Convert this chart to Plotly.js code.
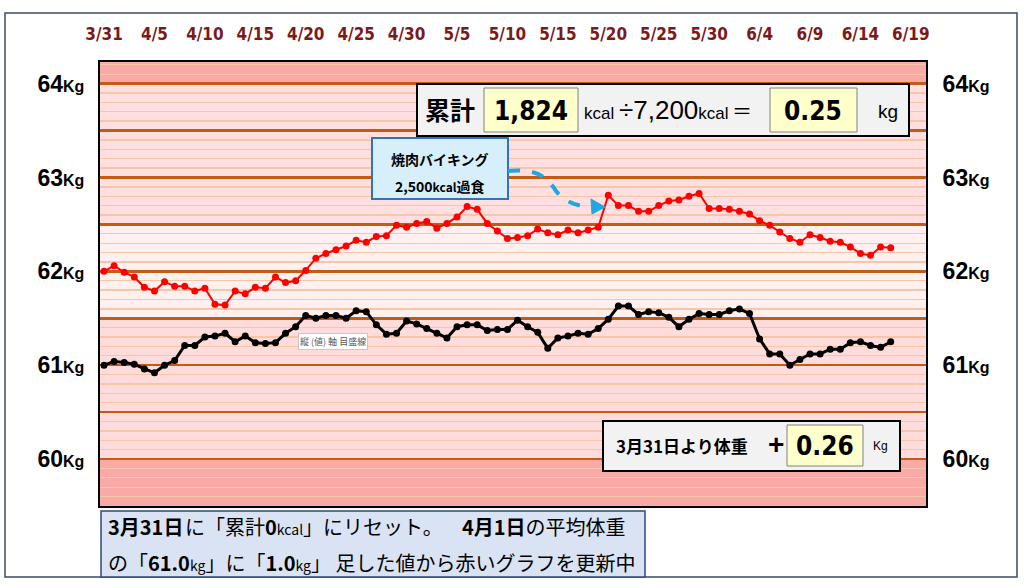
<!DOCTYPE html>
<html>
<head>
<meta charset="utf-8">
<script src="https://cdn.plot.ly/plotly-3.0.1.min.js"></script>
<style>html,body{margin:0;padding:0;background:#fff;}#chart{width:1024px;height:588px;}</style>
</head>
<body>
<div id="chart"></div>
<script>
// ---- data ----
const dates = ['3/31',
 '4/1','4/2','4/3','4/4','4/5','4/6','4/7','4/8','4/9','4/10','4/11','4/12','4/13','4/14','4/15',
 '4/16','4/17','4/18','4/19','4/20','4/21','4/22','4/23','4/24','4/25','4/26','4/27','4/28','4/29','4/30',
 '5/1','5/2','5/3','5/4','5/5','5/6','5/7','5/8','5/9','5/10','5/11','5/12','5/13','5/14','5/15',
 '5/16','5/17','5/18','5/19','5/20','5/21','5/22','5/23','5/24','5/25','5/26','5/27','5/28','5/29','5/30','5/31',
 '6/1','6/2','6/3','6/4','6/5','6/6','6/7','6/8','6/9','6/10','6/11','6/12','6/13','6/14','6/15','6/16','6/17'];

const redWeight = [62.00,62.06,61.99,61.94,61.83,61.79,61.89,61.84,61.84,61.79,
 61.82,61.65,61.64,61.79,61.76,61.83,61.82,61.94,61.88,61.90,
 62.01,62.14,62.19,62.23,62.27,62.33,62.31,62.37,62.38,62.49,
 62.47,62.51,62.53,62.46,62.51,62.58,62.69,62.66,62.51,62.43,
 62.35,62.36,62.38,62.45,62.41,62.39,62.44,62.41,62.44,62.47,
 62.81,62.70,62.70,62.64,62.64,62.70,62.75,62.76,62.80,62.83,
 62.67,62.67,62.66,62.64,62.61,62.54,62.49,62.42,62.35,62.31,
 62.39,62.36,62.32,62.31,62.26,62.19,62.17,62.26,62.25];

const blackWeight = [61.00,61.04,61.03,61.01,60.96,60.92,61.00,61.05,61.21,61.21,
 61.30,61.31,61.34,61.25,61.31,61.24,61.23,61.24,61.34,61.41,
 61.53,61.50,61.53,61.53,61.50,61.58,61.57,61.43,61.33,61.34,
 61.47,61.44,61.39,61.34,61.29,61.41,61.43,61.43,61.37,61.38,
 61.38,61.48,61.41,61.35,61.18,61.29,61.31,61.34,61.33,61.39,
 61.49,61.63,61.63,61.54,61.57,61.56,61.51,61.41,61.49,61.55,
 61.54,61.54,61.58,61.60,61.55,61.28,61.12,61.12,61.00,61.06,
 61.12,61.12,61.17,61.17,61.24,61.25,61.21,61.19,61.25];

const xTickLabels = ['3/31','4/5','4/10','4/15','4/20','4/25','4/30','5/5','5/10','5/15','5/20','5/25','5/30','6/4','6/9','6/14','6/19'];
const yMajorVals = [60,60.5,61,61.5,62,62.5,63,63.5,64];
const yLabelVals = [60,61,62,63,64];

const totalKcal = '1,824';
const kcalPerKg = '7,200';
const kgResult = '0.25';
const gainSince = '0.26';

// ---- helpers ----
const YEAR = '2019';
const iso = d => { const [m, dd] = d.split('/'); return `${YEAR}-${m.padStart(2,'0')}-${dd.padStart(2,'0')}`; };
const xs = dates.map(iso);

const L = 100, R = 926, T = 62, B = 506;
const px = x => (x - L) / (R - L);
const py = y => (B - y) / (B - T);
const pathPx = pts => pts.map(p => typeof p === 'string' ? p : `${px(p[0]).toFixed(5)},${py(p[1]).toFixed(5)}`).join(' ');

const kgLabel = v => `${v}<span style="font-size:16px">Kg</span>`;
const CJK = 'Noto Sans CJK JP, sans-serif';
const NARROW = 'Liberation Sans Narrow, Arial Narrow, DejaVu Sans Condensed, Roboto Condensed, Roboto, sans-serif';

const traces = [
  {x: xs, y: redWeight, type: 'scatter', mode: 'lines+markers',
   line: {color: '#ff0000', width: 2}, marker: {color: '#ff0000', size: 7}, hoverinfo: 'skip'},
  {x: xs, y: blackWeight, type: 'scatter', mode: 'lines+markers',
   line: {color: '#000000', width: 3}, marker: {color: '#000000', size: 7}, hoverinfo: 'skip'},
  {x: [], y: [], type: 'scatter', yaxis: 'y2', hoverinfo: 'skip'}
];

const yRange = [59.5, 64.23];

const rect = (x0, y0, x1, y1, fill, lc, lw, layer) => ({
  type: 'rect', xref: 'paper', yref: 'paper', x0: px(x0), x1: px(x1), y0: py(y1), y1: py(y0),
  fillcolor: fill, line: {color: lc, width: lw}, layer: layer || 'above'
});
const band = (v0, v1, fill) => ({
  type: 'rect', xref: 'paper', yref: 'y', x0: 0, x1: 1, y0: v0, y1: v1,
  fillcolor: fill, line: {width: 0}, layer: 'below'
});

const shapes = [
  band(59.5, 60, '#f9a9a6'),
  band(60, 61.5, '#ffdcdc'),
  band(61.5, 62.5, '#fff0f0'),
  band(62.5, 64, '#ffdfdf'),
  band(64, 64.23, '#f9a9a6'),
  // outer frame
  rect(5, 13, 1017, 577, 'rgba(0,0,0,0)', '#3b4866', 1.5, 'below'),
  // kcal box
  rect(417, 84, 909, 136, '#f2f2f2', '#000000', 2),
  rect(484, 88, 578, 132, '#ffffcc', '#808080', 1),
  rect(770, 88, 857, 132, '#ffffcc', '#808080', 1),
  // callout
  rect(372, 138, 508, 199, '#d7effa', '#2e75b6', 2),
  {type: 'path', xref: 'paper', yref: 'paper', layer: 'above',
   path: 'M ' + pathPx([[508,171], 'C', [538,168], [548,178], [556,191], 'C', [566,204], [582,207], [594,207]]),
   line: {color: '#1ea7e1', width: 4, dash: 'dash'}},
  {type: 'path', xref: 'paper', yref: 'paper', layer: 'above',
   path: 'M ' + pathPx([[605,207], 'L', [591,199], 'L', [592,214]]) + ' Z',
   fillcolor: '#1ea7e1', line: {color: '#1ea7e1', width: 1}},
  // weight gain box
  rect(603, 421, 900, 471, '#f2f2f2', '#000000', 2),
  rect(787, 425, 863, 466, '#ffffcc', '#808080', 1),
  // note box
  rect(101, 511, 645, 577, '#dae3f3', '#2f4a7f', 1.5)
];

const ann = (x, y, text, size, opts) => Object.assign({
  xref: 'paper', yref: 'paper', x: px(x), y: py(y), text: text, showarrow: false,
  xanchor: 'center', yanchor: 'middle',
  font: {family: CJK, size: size, color: '#000000'}
}, opts || {});
const narrowFont = size => ({family: NARROW, size: size, color: '#000', weight: 'bold', stretch: 'condensed'});

const annotations = [
  ann(450, 109, '累計', 25, {font: {family: CJK, size: 25, color: '#000', weight: 'bold'}}),
  ann(531, 111, totalKcal, 26, {font: narrowFont(26)}),
  ann(582, 113, 'kcal', 17, {xanchor: 'left', font: {family: 'Liberation Sans, sans-serif', size: 17, color: '#000'}}),
  ann(617, 110, `÷${kcalPerKg}<span style="font-size:17px">kcal</span>`, 26, {xanchor: 'left', font: {family: 'Liberation Sans, sans-serif', size: 26, color: '#000'}}),
  ann(742, 110, '＝', 20, {font: {family: CJK, size: 20, color: '#000'}}),
  ann(813, 111, kgResult, 26, {font: narrowFont(26)}),
  ann(888, 112, 'kg', 19, {font: {family: 'Liberation Sans, sans-serif', size: 19, color: '#000'}}),
  ann(440, 159, '焼肉バイキング', 14, {font: {family: CJK, size: 14, color: '#000', weight: 'bold'}}),
  ann(440, 186, '2,500<span style="font-size:12px">kcal</span>過食', 14, {font: {family: CJK, size: 14, color: '#000', weight: 'bold'}}),
  ann(333, 341, '縦 (値) 軸 目盛線', 9, {font: {family: CJK, size: 9, color: '#595959'}, bgcolor: '#ffffff', bordercolor: '#c8c8c8', borderwidth: 1, borderpad: 1}),
  ann(682, 445, '3月31日より体重', 17, {font: {family: CJK, size: 17, color: '#000', weight: 'bold'}}),
  ann(776, 444, '+', 28, {font: {family: 'Liberation Sans, sans-serif', size: 28, color: '#000', weight: 'bold'}}),
  ann(825, 446, gainSince, 26, {font: narrowFont(26)}),
  ann(880, 446, 'Kg', 12, {font: {family: 'Liberation Sans, sans-serif', size: 12, color: '#000'}}),
  ann(106, 526, '<b>3月31日</b>', 20, {xanchor: 'left'}),
  ann(183, 526, 'に「累計<b>0</b><span style="font-size:14px">kcal</span>」にリセット。', 20, {xanchor: 'left'}),
  ann(460, 526, '<b>4月1日</b>の平均体重', 20, {xanchor: 'left'}),
  ann(106, 562, 'の「<b>61.0</b><span style="font-size:14px">kg</span>」に「<b>1.0</b><span style="font-size:14px">kg</span>」 足した値から赤いグラフを更新中', 20, {xanchor: 'left'})
];

const layout = {
  width: 1024, height: 588,
  margin: {l: L, r: 1024 - R, t: T, b: 588 - B, pad: 0},
  paper_bgcolor: '#ffffff', plot_bgcolor: '#ffdcdc',
  showlegend: false, hovermode: false,
  xaxis: {
    type: 'date', side: 'top',
    range: [`${YEAR}-03-30 14:24`, `${YEAR}-06-20 12:00`],
    tickmode: 'array', tickvals: xTickLabels.map(iso), ticktext: xTickLabels,
    ticks: 'outside', ticklen: 13, tickcolor: 'rgba(0,0,0,0)',
    tickfont: {family: NARROW, size: 17, color: '#7b1a1a', weight: 'bold', stretch: 'condensed'},
    showgrid: false, zeroline: false,
    showline: true, mirror: true, linecolor: '#000000', linewidth: 2
  },
  yaxis: {
    range: yRange,
    tickmode: 'array', tickvals: yMajorVals,
    ticktext: yMajorVals.map(v => yLabelVals.includes(v) ? kgLabel(v) : ''),
    ticks: 'outside', ticklen: 9, tickcolor: 'rgba(0,0,0,0)',
    tickfont: {family: 'Liberation Sans, sans-serif', size: 23, color: '#000', weight: 'bold'},
    showgrid: true, gridcolor: '#c55a11', gridwidth: 2.5,
    minor: {tickmode: 'linear', tick0: 60, dtick: 0.1, showgrid: true, gridcolor: '#f7c6a8', gridwidth: 1.3, ticks: ''},
    zeroline: false,
    showline: true, mirror: true, linecolor: '#000000', linewidth: 2
  },
  yaxis2: {
    overlaying: 'y', side: 'right', range: yRange,
    tickmode: 'array', tickvals: yLabelVals, ticktext: yLabelVals.map(kgLabel),
    ticks: 'outside', ticklen: 11, tickcolor: 'rgba(0,0,0,0)',
    tickfont: {family: 'Liberation Sans, sans-serif', size: 23, color: '#000', weight: 'bold'},
    showgrid: false, zeroline: false, showline: false
  },
  shapes: shapes,
  annotations: annotations
};

Plotly.newPlot('chart', traces, layout, {staticPlot: true, displayModeBar: false});
</script>
</body>
</html>
